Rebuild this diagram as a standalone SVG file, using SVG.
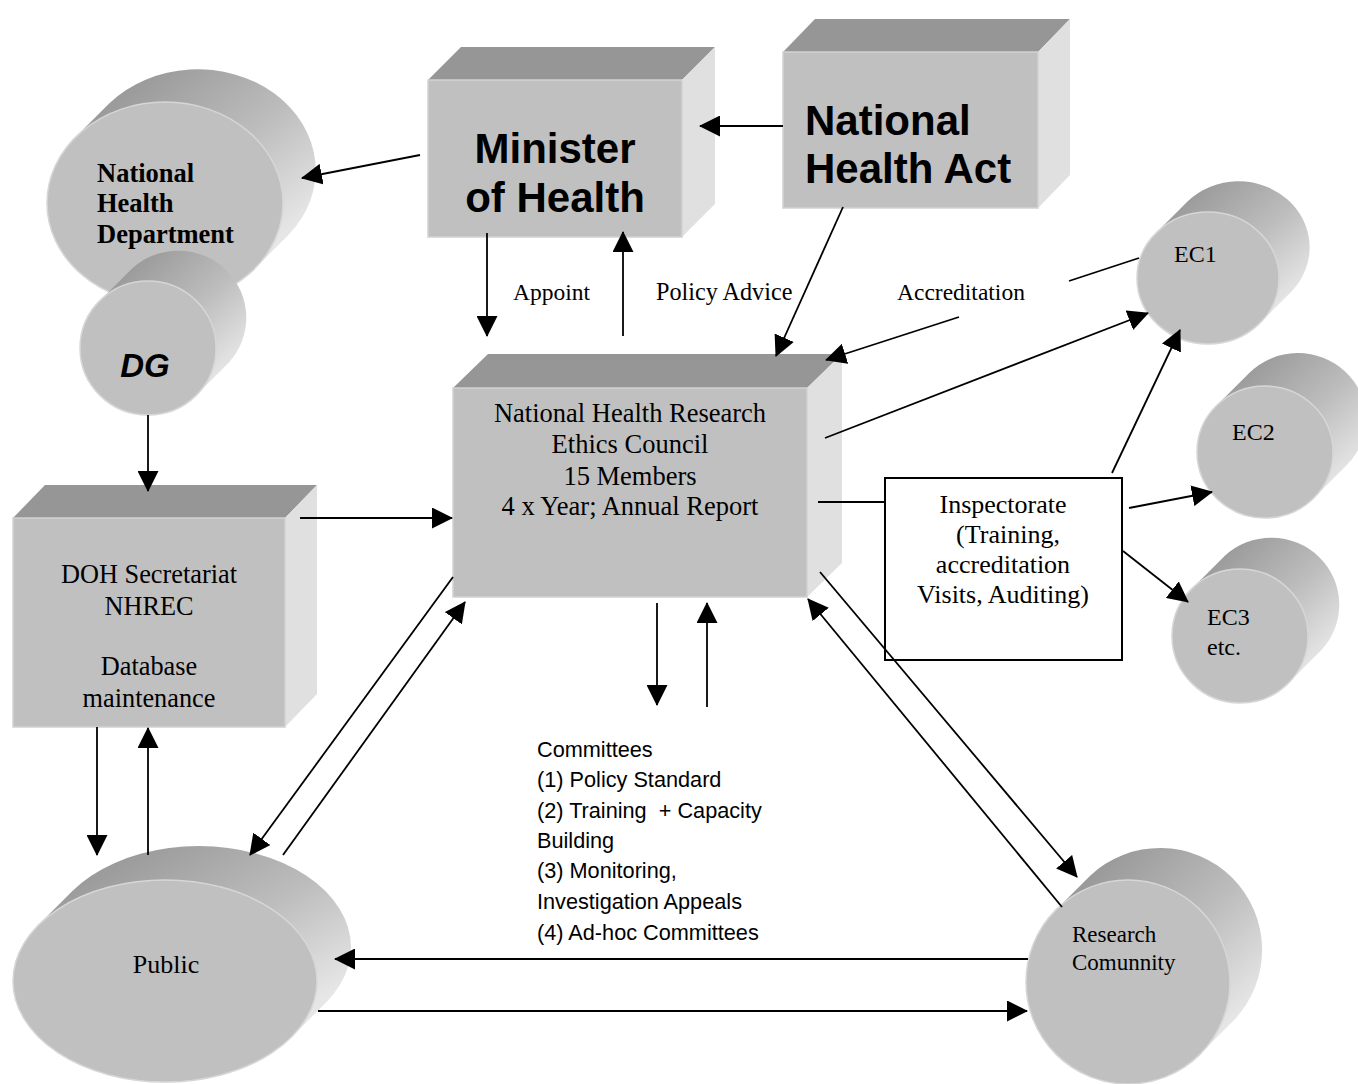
<svg xmlns="http://www.w3.org/2000/svg" width="1358" height="1084" viewBox="0 0 1358 1084">
<defs>
<linearGradient id="body" x1="0.25" y1="0" x2="0.95" y2="0.75">
<stop offset="0" stop-color="#979797"/>
<stop offset="0.55" stop-color="#bdbdbd"/>
<stop offset="1" stop-color="#e6e6e6"/>
</linearGradient>
<marker id="ah" markerUnits="userSpaceOnUse" markerWidth="21" markerHeight="21" refX="20" refY="10.5" orient="auto" viewBox="0 0 21 21">
<path d="M0,0 L21,10.5 L0,21 Z" fill="#000"/>
</marker>
<style>
.top{fill:#969696}
.side{fill:#e0e0e0}
.front{fill:#c0c0c0;stroke:#d2d2d2;stroke-width:1.5}
.cylb{fill:url(#body)}
.cylf{fill:#c0c0c0;stroke:#d6d6d6;stroke-width:1.5}
.ser{font-family:"Liberation Serif","Times New Roman",serif;fill:#000}
.san{font-family:"Liberation Sans",Arial,sans-serif;fill:#000}
.c{stroke:#000;stroke-width:1.8;fill:none}
.a{marker-end:url(#ah)}
</style>
</defs>

<rect width="1358" height="1084" fill="#fff"/>

<g id="nhd">
<path class="cylb" d="M75.4,137.3 L109.4,103.3 A118,101 0 0 1 288.6,234.7 L254.6,268.7 A118,101 0 0 0 75.4,137.3 Z"/>
<ellipse class="cylf" cx="165" cy="203" rx="118" ry="101"/>
<text class="ser" font-size="26.5" font-weight="bold" x="97" y="182">National</text>
<text class="ser" font-size="26.5" font-weight="bold" x="97" y="212">Health</text>
<text class="ser" font-size="26.5" font-weight="bold" x="97" y="243">Department</text>
</g>

<g id="dg">
<path class="cylb" d="M99.6,301 L131.6,269 A68,67 0 0 1 228.4,363 L196.4,395 A68,67 0 0 0 99.6,301 Z"/>
<ellipse class="cylf" cx="148" cy="348" rx="68" ry="67"/>
<text class="san" font-size="33" font-weight="bold" font-style="italic" x="145" y="377" text-anchor="middle">DG</text>
</g>

<g id="minister">
<polygon class="top" points="428,80 461,47 715,47 682,80"/>
<polygon class="side" points="682,80 715,47 715,204 682,237"/>
<rect class="front" x="428" y="80" width="254" height="157"/>
<text class="san" font-size="42" font-weight="bold" x="555" y="163" text-anchor="middle">Minister</text>
<text class="san" font-size="42" font-weight="bold" x="555" y="212" text-anchor="middle">of Health</text>
</g>

<g id="nha">
<polygon class="top" points="783,52 815,19 1070,19 1038,52"/>
<polygon class="side" points="1038,52 1070,19 1070,175 1038,208"/>
<rect class="front" x="783" y="52" width="255" height="156"/>
<text class="san" font-size="42" font-weight="bold" x="805" y="135">National</text>
<text class="san" font-size="42" font-weight="bold" x="805" y="183">Health Act</text>
</g>

<g id="nhrec">
<polygon class="top" points="453,388 488,354 842,354 807,388"/>
<polygon class="side" points="807,388 842,354 842,563 807,597"/>
<rect class="front" x="453" y="388" width="354" height="209"/>
<text class="ser" font-size="26.5" x="630" y="422" text-anchor="middle">National Health Research</text>
<text class="ser" font-size="26.5" x="630" y="453" text-anchor="middle">Ethics Council</text>
<text class="ser" font-size="26.5" x="630" y="485" text-anchor="middle">15 Members</text>
<text class="ser" font-size="26.5" x="630" y="515" text-anchor="middle">4 x Year; Annual Report</text>
</g>

<g id="doh">
<polygon class="top" points="13,518 45,485 317,485 285,518"/>
<polygon class="side" points="285,518 317,485 317,694 285,727"/>
<rect class="front" x="13" y="518" width="272" height="209"/>
<text class="ser" font-size="26.3" x="149" y="583" text-anchor="middle">DOH Secretariat</text>
<text class="ser" font-size="26.3" x="149" y="615" text-anchor="middle">NHREC</text>
<text class="ser" font-size="26.3" x="149" y="675" text-anchor="middle">Database</text>
<text class="ser" font-size="26.3" x="149" y="707" text-anchor="middle">maintenance</text>
</g>

<g id="ec1">
<path class="cylb" d="M1156,233.1 L1188,201.1 A71,66 0 0 1 1292,290.9 L1260,322.9 A71,66 0 0 0 1156,233.1 Z"/>
<ellipse class="cylf" cx="1208" cy="278" rx="71" ry="66"/>
<text class="ser" font-size="24" x="1174" y="262">EC1</text>
</g>

<g id="ec2">
<path class="cylb" d="M1216.2,406 L1249.2,373 A68,66 0 0 1 1346.8,465 L1313.8,498 A68,66 0 0 0 1216.2,406 Z"/>
<ellipse class="cylf" cx="1265" cy="452" rx="68" ry="66"/>
<text class="ser" font-size="24" x="1232" y="440">EC2</text>
</g>

<g id="ec3">
<path class="cylb" d="M1191.6,589 L1224.6,556 A68,67 0 0 1 1321.4,650 L1288.4,683 A68,67 0 0 0 1191.6,589 Z"/>
<ellipse class="cylf" cx="1240" cy="636" rx="68" ry="67"/>
<text class="ser" font-size="24" x="1207" y="625">EC3</text>
<text class="ser" font-size="24" x="1207" y="655">etc.</text>
</g>

<g id="inspectorate">
<rect x="885" y="478" width="237" height="182" fill="#fff" stroke="#000" stroke-width="2"/>
<text class="ser" font-size="26" x="1003" y="513" text-anchor="middle">Inspectorate</text>
<text class="ser" font-size="26" x="1008" y="543" text-anchor="middle">(Training,</text>
<text class="ser" font-size="26" x="1003" y="573" text-anchor="middle">accreditation</text>
<text class="ser" font-size="26" x="1003" y="603" text-anchor="middle">Visits, Auditing)</text>
</g>

<g id="public">
<path class="cylb" d="M38.4,925.1 L72.4,891.1 A152,101 0 0 1 325.6,1002.9 L291.6,1036.9 A152,101 0 0 0 38.4,925.1 Z"/>
<ellipse class="cylf" cx="165" cy="981" rx="152" ry="101"/>
<text class="ser" font-size="26" x="166" y="973" text-anchor="middle">Public</text>
</g>

<g id="research">
<path class="cylb" d="M1055.9,909.9 L1089.9,875.9 A102,102 0 0 1 1234.1,1020.1 L1200.1,1054.1 A102,102 0 0 0 1055.9,909.9 Z"/>
<ellipse class="cylf" cx="1128" cy="982" rx="102" ry="102"/>
<text class="ser" font-size="23" x="1072" y="942">Research</text>
<text class="ser" font-size="23" x="1072" y="970">Comunnity</text>
</g>

<g id="committees">
<text class="san" font-size="21.7" x="537" y="757">Committees</text>
<text class="san" font-size="21.7" x="537" y="787">(1) Policy Standard</text>
<text class="san" font-size="21.7" x="537" y="818" xml:space="preserve">(2) Training  + Capacity</text>
<text class="san" font-size="21.7" x="537" y="848">Building</text>
<text class="san" font-size="21.7" x="537" y="878">(3) Monitoring,</text>
<text class="san" font-size="21.7" x="537" y="909">Investigation Appeals</text>
<text class="san" font-size="21.7" x="537" y="940">(4) Ad-hoc Committees</text>
</g>

<g id="connectors">
<line class="c a" x1="420" y1="155" x2="302" y2="178"/>
<line class="c a" x1="783" y1="126" x2="700" y2="126"/>
<line class="c a" x1="487" y1="233" x2="487" y2="336"/>
<line class="c a" x1="623" y1="336" x2="623" y2="232"/>
<line class="c a" x1="843" y1="207" x2="776" y2="356"/>
<line class="c" x1="1139" y1="258" x2="1069" y2="281"/>
<line class="c a" x1="959" y1="317" x2="826" y2="360"/>
<line class="c a" x1="825" y1="438" x2="1148" y2="313"/>
<line class="c" x1="818" y1="502" x2="885" y2="502"/>
<line class="c a" x1="1112" y1="473" x2="1180" y2="330"/>
<line class="c a" x1="1129" y1="508" x2="1212" y2="492"/>
<line class="c a" x1="1123" y1="551" x2="1188" y2="602"/>
<line class="c a" x1="148" y1="415" x2="148" y2="491"/>
<line class="c a" x1="300" y1="518" x2="452" y2="518"/>
<line class="c a" x1="97" y1="727" x2="97" y2="855"/>
<line class="c a" x1="148" y1="855" x2="148" y2="728"/>
<line class="c a" x1="453" y1="577" x2="250" y2="855"/>
<line class="c a" x1="283" y1="855" x2="465" y2="602"/>
<line class="c a" x1="820" y1="572" x2="1077" y2="877"/>
<line class="c a" x1="1062" y1="907" x2="808" y2="599"/>
<line class="c a" x1="1028" y1="959" x2="335" y2="959"/>
<line class="c a" x1="318" y1="1011" x2="1027" y2="1011"/>
<line class="c a" x1="657" y1="603" x2="657" y2="705"/>
<line class="c a" x1="707" y1="707" x2="707" y2="603"/>
<text class="ser" font-size="23.5" x="513" y="300">Appoint</text>
<text class="ser" font-size="24.2" x="656" y="300">Policy Advice</text>
<text class="ser" font-size="23.5" x="897" y="300">Accreditation</text>
</g>
</svg>
